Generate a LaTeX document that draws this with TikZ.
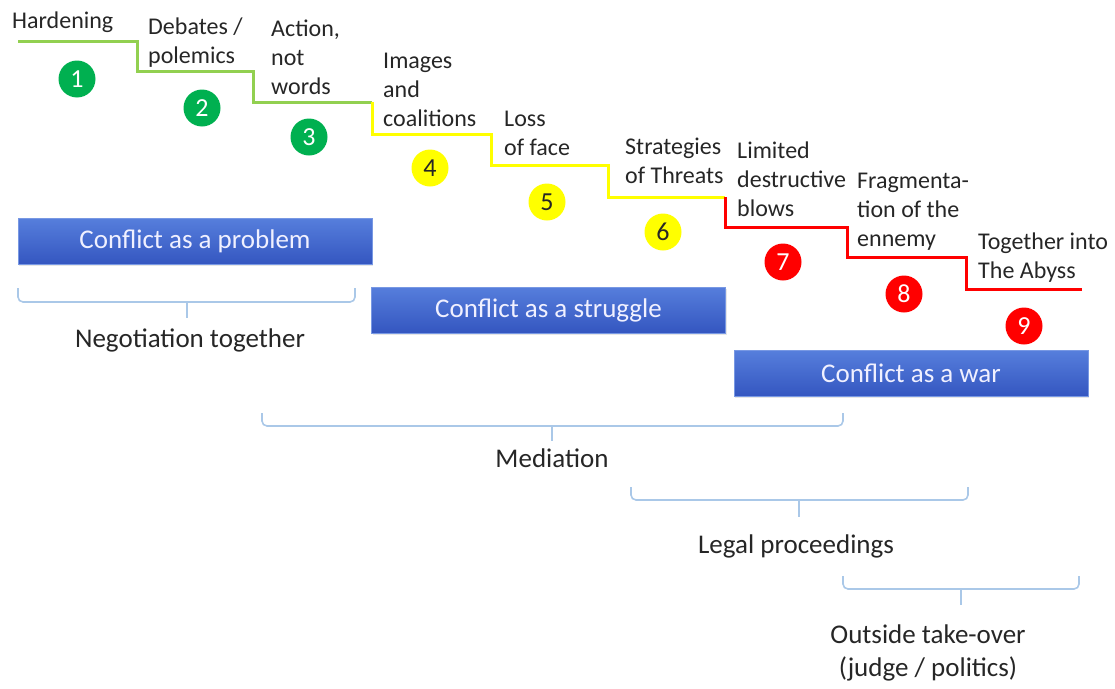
\documentclass[tikz,border=0pt]{standalone}
\usepackage{fontspec}
\setmainfont{Carlito}
\usetikzlibrary{shadows}
\definecolor{stepgreen}{RGB}{146,208,80}
\definecolor{stepyellow}{RGB}{255,255,0}
\definecolor{stepred}{RGB}{255,0,0}
\definecolor{dotgreen}{RGB}{0,176,80}
\definecolor{boxtop}{RGB}{86,126,220}
\definecolor{boxbot}{RGB}{52,86,192}
\definecolor{bracecol}{RGB}{170,200,232}
\definecolor{txt}{RGB}{38,38,38}
\begin{document}
\begin{tikzpicture}[x=1pt,y=-1pt,
  steplabel/.style={anchor=north west,inner sep=0pt,align=left,font=\fontsize{24}{29}\selectfont,text=txt},
  stagenum/.style={circle,minimum size=37pt,inner sep=0pt,font=\fontsize{26}{30}\selectfont},
  greennum/.style={stagenum,fill=dotgreen,text=white},
  yellownum/.style={stagenum,fill=stepyellow,text=txt},
  rednum/.style={stagenum,fill=stepred,text=white},
  stagebox/.style={minimum width=354pt,minimum height=46pt,inner sep=0pt,top color=boxtop,bottom color=boxbot,draw=boxtop!80!white,line width=0.6pt,text=white!94!blue,font=\fontsize{27}{32}\selectfont,drop shadow={opacity=0.2,shadow xshift=1pt,shadow yshift=-1.5pt}},
  approach/.style={anchor=base,inner sep=0pt,align=center,font=\fontsize{27}{33}\selectfont,text=txt},
  bracepath/.style={draw=bracecol,line width=1.6pt,rounded corners=5pt},
  stepline/.style={line width=3pt,line join=miter}
]
\useasboundingbox (0,0) rectangle (1115,688);

% staircase
\draw[stepline,stepgreen] (18,41) -- (137,41) -- (137,71) -- (253,71) -- (253,102) -- (372,102);
\draw[stepline,stepyellow] (372,102) -- (372,134) -- (491,134) -- (491,165) -- (608,165) -- (608,197) -- (725,197);
\draw[stepline,stepred] (725,197) -- (725,227) -- (847,227) -- (847,257) -- (966,257) -- (966,289) -- (1082,289);

% step labels
\node[steplabel] (l1) at (12,7.7) {\strut Hardening};
\node[steplabel] (l2) at (148,13.7) {\strut Debates /\\polemics};
\node[steplabel] (l3) at (271,15.7) {\strut Action,\\not\\words};
\node[steplabel] (l4) at (383,47.7) {\strut Images\\and\\coalitions};
\node[steplabel] (l5) at (504,105.7) {\strut Loss\\of face};
\node[steplabel] (l6) at (625,133.7) {\strut Strategies\\of Threats};
\node[steplabel] (l7) at (737,137.7) {\strut Limited\\destructive\\blows};
\node[steplabel] (l8) at (857,167.7) {\strut Fragmenta-\\tion of the\\ennemy};
\node[steplabel] (l9) at (978,228.7) {\strut Together into\\The Abyss};

% stage numbers
\node[greennum] (n1) at (77,79) {1};
\node[greennum] (n2) at (202,108) {2};
\node[greennum] (n3) at (309,137) {3};
\node[yellownum] (n4) at (430,168) {4};
\node[yellownum] (n5) at (547,202) {5};
\node[yellownum] (n6) at (663,232) {6};
\node[rednum] (n7) at (783,262) {7};
\node[rednum] (n8) at (904,294) {8};
\node[rednum] (n9) at (1024,326) {9};

% stage boxes
\node[stagebox] (b1) at (195,241.5) {Conflict as a problem};
\node[stagebox] (b2) at (548.5,310) {Conflict as a struggle};
\node[stagebox] (b3) at (911,373.5) {Conflict as a war};

% braces
\draw[bracepath] (18,288) |- (187,302) -| (355,288);
\draw[bracecol,line width=1.6pt] (187,302) -- (187,318);
\draw[bracepath] (262,413) |- (552,426) -| (843,413);
\draw[bracecol,line width=1.6pt] (552,426) -- (552,441);
\draw[bracepath] (631,487) |- (799,500) -| (968,487);
\draw[bracecol,line width=1.6pt] (799,500) -- (799,517);
\draw[bracepath] (843,576) |- (961,589) -| (1079,576);
\draw[bracecol,line width=1.6pt] (961,589) -- (961,605);

% approaches
\node[approach] (a1) at (190,347) {Negotiation together};
\node[approach] (a2) at (552,467) {Mediation};
\node[approach] (a3) at (796,553) {Legal proceedings};
\node[approach,anchor=north] (a4) at (928,625) {Outside take-over\\(judge / politics)};
\end{tikzpicture}
\end{document}
